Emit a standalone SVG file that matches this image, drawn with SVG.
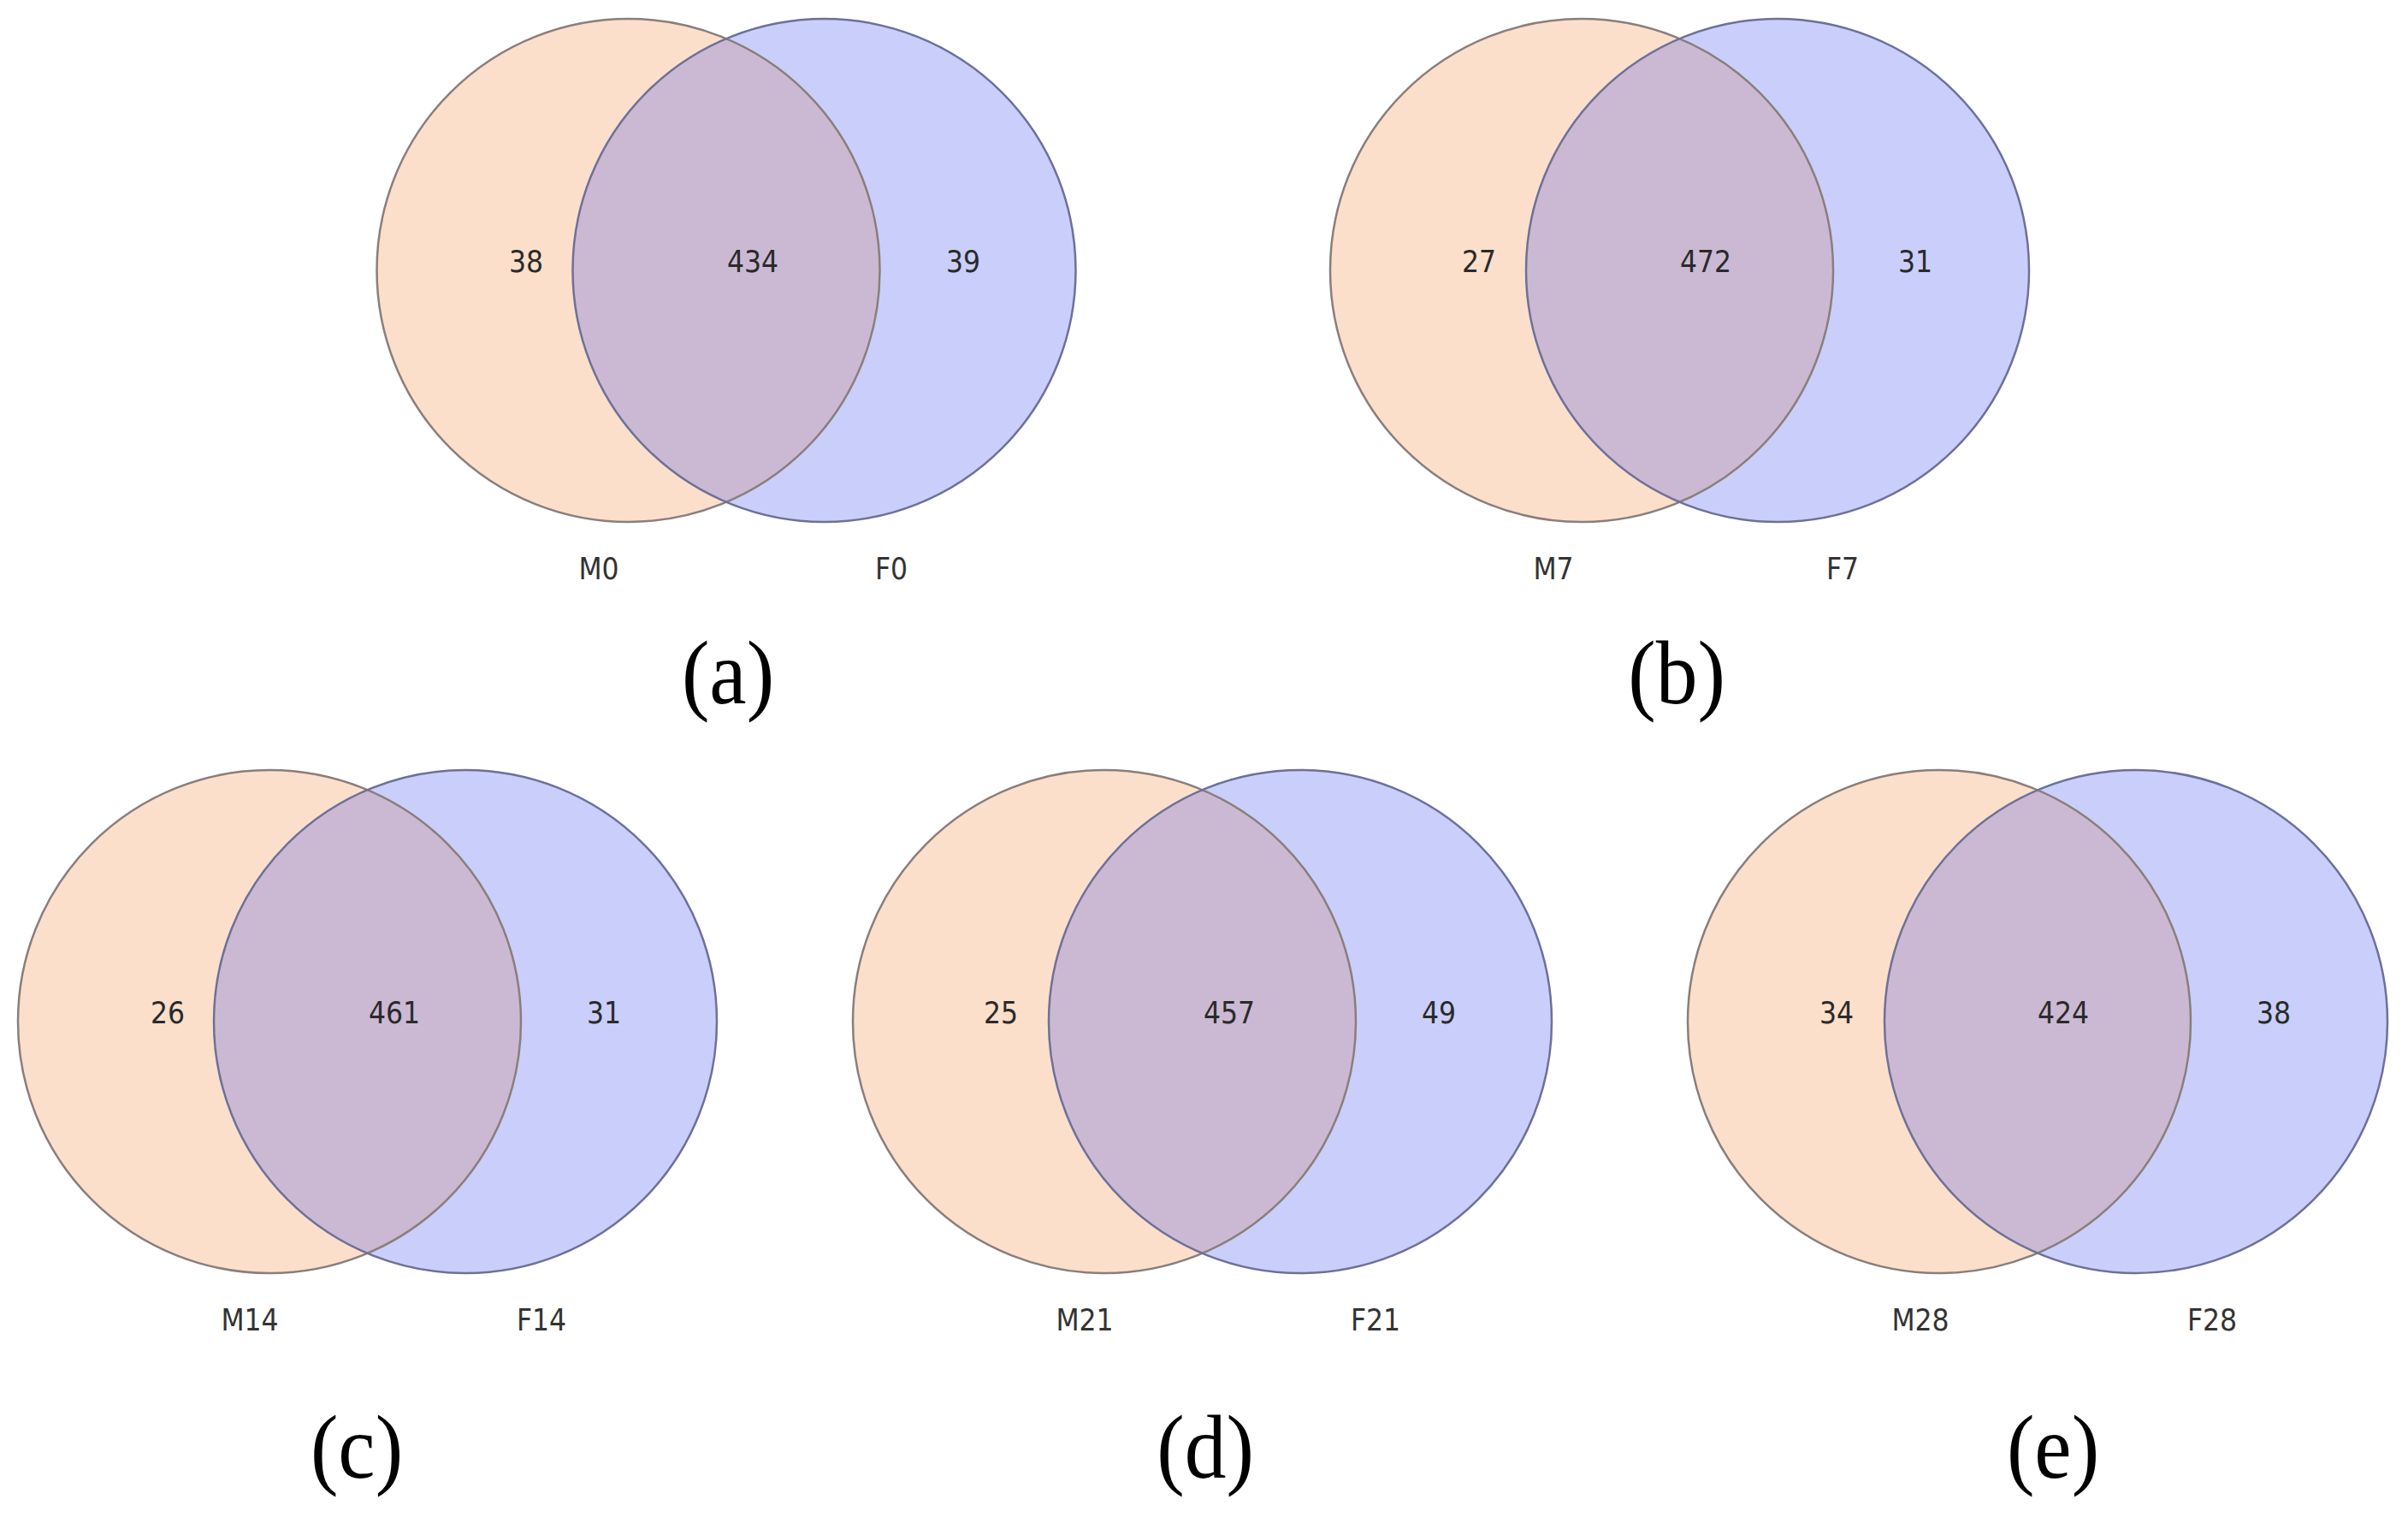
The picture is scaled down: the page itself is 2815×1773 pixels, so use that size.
<svg xmlns="http://www.w3.org/2000/svg" width="2815" height="1773" viewBox="0 0 2815 1773">
<style>
.m{fill:#FCDFCB}
.f{fill:#C9CFFA}
.o{fill:#CBB9D4}
.ms{fill:none;stroke:#8A7E7C;stroke-width:2.5}
.fs{fill:none;stroke:#6D7199;stroke-width:2.5}
.n{font-family:"DejaVu Sans Condensed","DejaVu Sans",sans-serif;font-stretch:condensed;font-size:35px;fill:#2a2a2a;text-anchor:middle}
.s{font-family:"DejaVu Sans Condensed","DejaVu Sans",sans-serif;font-stretch:condensed;font-size:35px;fill:#333;text-anchor:middle}
.p{font-family:"Liberation Serif","Times New Roman",serif;font-size:106px;fill:#000;text-anchor:middle}
</style>
<defs>
<clipPath id="ca"><circle cx="734.5" cy="316" r="294"/></clipPath>
<clipPath id="cb"><circle cx="1849" cy="316" r="294"/></clipPath>
<clipPath id="cc"><circle cx="315" cy="1194" r="294"/></clipPath>
<clipPath id="cd"><circle cx="1291" cy="1194" r="294"/></clipPath>
<clipPath id="ce"><circle cx="2267" cy="1194" r="294"/></clipPath>
</defs>
<rect width="2815" height="1773" fill="#fff"/>

<g id="panel-a">
<g id="M0"><circle class="m" cx="734.5" cy="316" r="294"/></g>
<g id="F0"><circle class="f" cx="963.5" cy="316" r="294"/></g>
<g id="M0-F0"><circle class="o" cx="963.5" cy="316" r="294" clip-path="url(#ca)"/></g>
<circle class="ms" cx="734.5" cy="316" r="294"/>
<circle class="fs" cx="963.5" cy="316" r="294"/>
<text class="n" x="615" y="318">38</text>
<text class="n" x="880" y="318">434</text>
<text class="n" x="1126" y="318">39</text>
<text class="s" x="700" y="677">M0</text>
<text class="s" x="1042" y="677">F0</text>
<text class="p" transform="translate(851,822) scale(0.92,1)">(a)</text>
</g>

<g id="panel-b">
<g id="M7"><circle class="m" cx="1849" cy="316" r="294"/></g>
<g id="F7"><circle class="f" cx="2078" cy="316" r="294"/></g>
<g id="M7-F7"><circle class="o" cx="2078" cy="316" r="294" clip-path="url(#cb)"/></g>
<circle class="ms" cx="1849" cy="316" r="294"/>
<circle class="fs" cx="2078" cy="316" r="294"/>
<text class="n" x="1729" y="318">27</text>
<text class="n" x="1994" y="318">472</text>
<text class="n" x="2239" y="318">31</text>
<text class="s" x="1816" y="677">M7</text>
<text class="s" x="2154" y="677">F7</text>
<text class="p" transform="translate(1960,822) scale(0.92,1)">(b)</text>
</g>

<g id="panel-c">
<g id="M14"><circle class="m" cx="315" cy="1194" r="294"/></g>
<g id="F14"><circle class="f" cx="544" cy="1194" r="294"/></g>
<g id="M14-F14"><circle class="o" cx="544" cy="1194" r="294" clip-path="url(#cc)"/></g>
<circle class="ms" cx="315" cy="1194" r="294"/>
<circle class="fs" cx="544" cy="1194" r="294"/>
<text class="n" x="196" y="1196">26</text>
<text class="n" x="461" y="1196">461</text>
<text class="n" x="706" y="1196">31</text>
<text class="s" x="292" y="1555">M14</text>
<text class="s" x="633" y="1555">F14</text>
<text class="p" transform="translate(417,1727) scale(0.92,1)">(c)</text>
</g>

<g id="panel-d">
<g id="M21"><circle class="m" cx="1291" cy="1194" r="294"/></g>
<g id="F21"><circle class="f" cx="1520" cy="1194" r="294"/></g>
<g id="M21-F21"><circle class="o" cx="1520" cy="1194" r="294" clip-path="url(#cd)"/></g>
<circle class="ms" cx="1291" cy="1194" r="294"/>
<circle class="fs" cx="1520" cy="1194" r="294"/>
<text class="n" x="1170" y="1196">25</text>
<text class="n" x="1437" y="1196">457</text>
<text class="n" x="1682" y="1196">49</text>
<text class="s" x="1268" y="1555">M21</text>
<text class="s" x="1608" y="1555">F21</text>
<text class="p" transform="translate(1409,1727) scale(0.92,1)">(d)</text>
</g>

<g id="panel-e">
<g id="M28"><circle class="m" cx="2267" cy="1194" r="294"/></g>
<g id="F28"><circle class="f" cx="2497" cy="1194" r="294"/></g>
<g id="M28-F28"><circle class="o" cx="2497" cy="1194" r="294" clip-path="url(#ce)"/></g>
<circle class="ms" cx="2267" cy="1194" r="294"/>
<circle class="fs" cx="2497" cy="1194" r="294"/>
<text class="n" x="2147" y="1196">34</text>
<text class="n" x="2412" y="1196">424</text>
<text class="n" x="2658" y="1196">38</text>
<text class="s" x="2245" y="1555">M28</text>
<text class="s" x="2586" y="1555">F28</text>
<text class="p" transform="translate(2400,1727) scale(0.92,1)">(e)</text>
</g>

<g id="connectors"/>
</svg>
